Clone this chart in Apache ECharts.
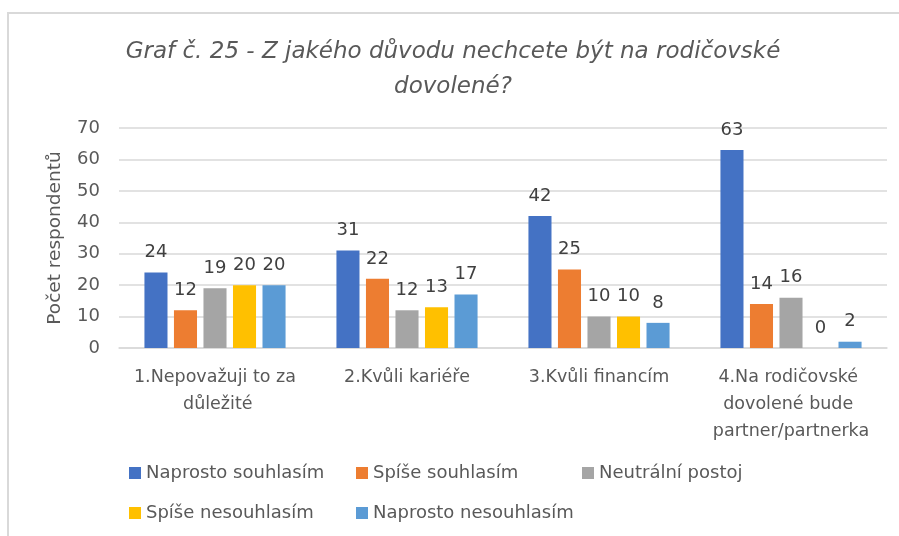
<!DOCTYPE html>
<html>
<head>
<meta charset="utf-8">
<script src="https://cdn.jsdelivr.net/npm/echarts@6/dist/echarts.min.js"></script>
<style>
  html, body { margin: 0; padding: 0; background: #fff; }
  #chart { width: 899px; height: 536px; }
</style>
</head>
<body>
<div id="chart"></div>
<script>
const titleText = 'Graf č. 25 - Z jakého důvodu nechcete být na rodičovské\ndovolené?';
const yAxisName = 'Počet respondentů';
const categories = [
  '1.Nepovažuji to za důležité',
  '2.Kvůli kariéře',
  '3.Kvůli financím',
  '4.Na rodičovské dovolené bude partner/partnerka'
];
const seriesNames = [
  'Naprosto souhlasím',
  'Spíše souhlasím',
  'Neutrální postoj',
  'Spíše nesouhlasím',
  'Naprosto nesouhlasím'
];
const naprostoSouhlasim = [24, 31, 42, 63];
const spiseSouhlasim = [12, 22, 25, 14];
const neutralniPostoj = [19, 12, 10, 16];
const spiseNesouhlasim = [20, 13, 10, 0];
const naprostoNesouhlasim = [20, 17, 8, 2];
const yTicks = [0, 10, 20, 30, 40, 50, 60, 70];

const seriesValues = [naprostoSouhlasim, spiseSouhlasim, neutralniPostoj, spiseNesouhlasim, naprostoNesouhlasim];
const colors = ['#4472C4', '#ED7D31', '#A5A5A5', '#FFC000', '#5B9BD5'];
const FONT = 'DejaVu Sans';

const legendPos = [
  { left: 129, top: 462 },
  { left: 356, top: 462 },
  { left: 582, top: 462 },
  { left: 129, top: 502 },
  { left: 356, top: 502 }
];

const chart = echarts.init(document.getElementById('chart'), null, { renderer: 'canvas' });
chart.setOption({
  backgroundColor: '#ffffff',
  animation: false,
  color: colors,
  graphic: [{
    type: 'rect',
    shape: { x: 8, y: 13, width: 1000, height: 1000 },
    style: { fill: 'none', stroke: '#d9d9d9', lineWidth: 2 },
    silent: true
  }],
  title: {
    text: titleText,
    left: 453,
    top: 35,
    padding: 0,
    textAlign: 'center',
    textStyle: {
      fontFamily: FONT,
      fontStyle: 'italic',
      fontWeight: 'normal',
      fontSize: 23,
      lineHeight: 35,
      color: '#595959'
    }
  },
  legend: seriesNames.map((n, i) => ({
    data: [n],
    left: legendPos[i].left,
    top: legendPos[i].top,
    padding: 0,
    itemWidth: 12,
    itemHeight: 12,
    icon: 'rect',
    selectedMode: false,
    textStyle: { fontFamily: FONT, fontSize: 18, color: '#595959', lineHeight: 22 }
  })),
  grid: { left: 119, right: 12, top: 128, bottom: 188, containLabel: false },
  xAxis: {
    type: 'category',
    data: categories,
    axisTick: { show: false },
    axisLine: { lineStyle: { color: '#d9d9d9', width: 1.5 } },
    axisLabel: {
      interval: 0,
      margin: 16,
      width: 176,
      overflow: 'break',
      fontFamily: FONT,
      fontSize: 17.5,
      lineHeight: 27,
      color: '#595959'
    }
  },
  yAxis: {
    type: 'value',
    min: yTicks[0],
    max: yTicks[yTicks.length - 1],
    interval: yTicks[1] - yTicks[0],
    name: yAxisName,
    nameLocation: 'middle',
    nameGap: 54,
    nameRotate: 90,
    nameTextStyle: { fontFamily: FONT, fontSize: 18.5, color: '#595959' },
    axisLine: { show: false },
    axisTick: { show: false },
    splitLine: { lineStyle: { color: '#d9d9d9', width: 1.5 } },
    axisLabel: { margin: 19, fontFamily: FONT, fontSize: 18, color: '#595959' }
  },
  series: seriesValues.map((vals, i) => ({
    name: seriesNames[i],
    type: 'bar',
    data: vals,
    barGap: '28%',
    barCategoryGap: '26.5%',
    itemStyle: { color: colors[i] },
    label: {
      show: true,
      position: 'top',
      distance: 11,
      fontFamily: FONT,
      fontSize: 18,
      color: '#404040'
    }
  }))
});
</script>
</body>
</html>
